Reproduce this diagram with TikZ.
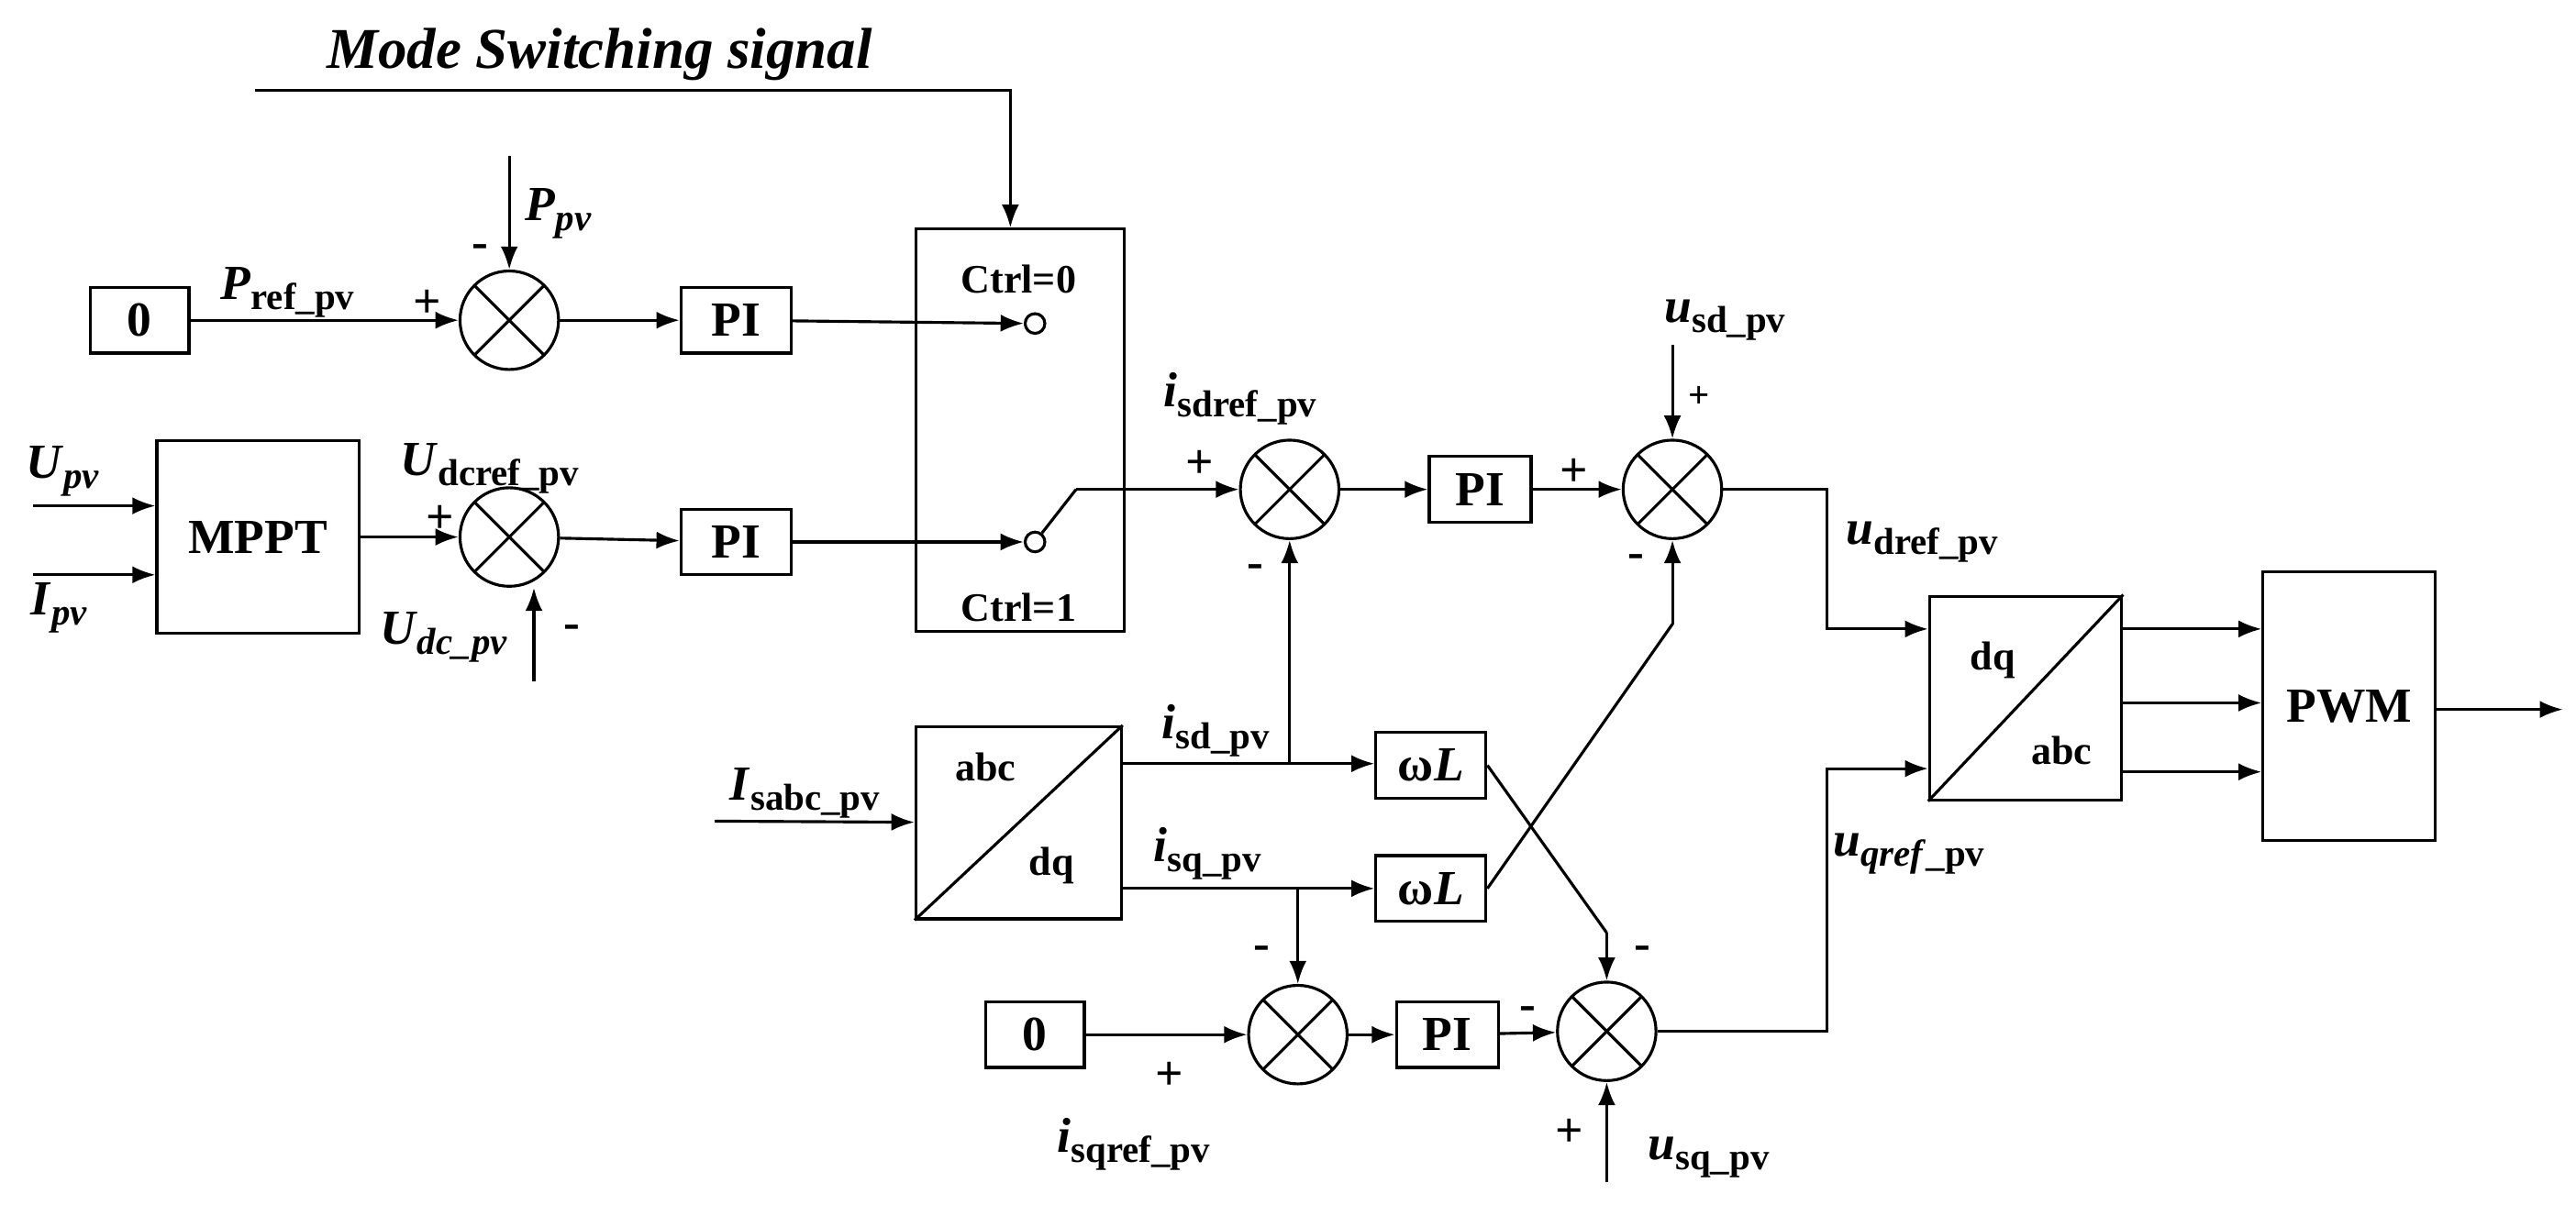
\documentclass[tikz,border=0pt]{standalone}
\usepackage{fontspec}
\setmainfont{Liberation Serif}
\usetikzlibrary{arrows.meta}
\newcommand{\lb}[2]{\textbf{\textit{#1}}\raisebox{-0.45ex}{\fontsize{13}{13}\selectfont\textbf{#2}}}
\begin{document}
\begin{tikzpicture}[x=0.02cm,y=-0.02cm,line width=1pt,>={Latex[length=8pt,width=6pt]},
 font=\fontsize{17}{19}\selectfont\bfseries,
 blk/.style={draw,inner sep=0pt},
 sml/.style={font=\fontsize{14}{16}\selectfont\bfseries},
 sum/.style={circle,draw,minimum size=1.2cm,inner sep=0pt,path picture={
   \draw (path picture bounding box.north west)--(path picture bounding box.south east)
         (path picture bounding box.north east)--(path picture bounding box.south west);}}]
\useasboundingbox (0,0) rectangle (1568,740);
% top signal
\node[font=\fontsize{20}{22}\selectfont\bfseries] (msl) at (365,33) {\textit{Mode Switching signal}};
\coordinate (ms0) at (155,55); \coordinate (ms1) at (615,55);
% row 1
\node[blk,minimum width=1.2cm,minimum height=0.8cm] (z1) at (85,195) {0};
\node[sum] (s1) at (310,195) {};
\node[blk,minimum width=1.34cm,minimum height=0.8cm] (pi1) at (448,195) {PI};
\node[blk,minimum width=2.54cm,minimum height=4.9cm] (sw) at (621,262) {};
\node[circle,draw,minimum size=0.24cm,inner sep=0pt] (c0) at (630,197) {};
\node[circle,draw,minimum size=0.24cm,inner sep=0pt] (c1) at (630,330) {};
\node[sml] at (620,170) {Ctrl=0};
\node[sml] at (620,370) {Ctrl=1};
\draw[->] (ms0)--(ms1)--(sw.north-|ms1);
\draw[->] (z1)--(s1);
\node at (175,178) {\textbf{\textit{P}}\raisebox{-0.45ex}{\fontsize{13}{13}\selectfont ref\_pv}};
\node at (260,185) {+};
\node at (292,153) {-};
\coordinate (pp) at (310,95);
\draw[->] (pp)--(s1);
\node at (340,130) {\lb{P}{\textit{pv}}};
\draw[->] (s1)--(pi1);
\draw[->] (pi1)--(c0);
% row 2
\node[blk,minimum width=2.46cm,minimum height=2.34cm] (mppt) at (157,327) {MPPT};
\coordinate (u0) at (20,308); \coordinate (i0) at (20,350);
\draw[->] (u0)--(u0-|mppt.west);
\draw[->] (i0)--(i0-|mppt.west);
\node at (38,287) {\lb{U}{\textit{pv}}};
\node at (36,370) {\lb{I}{\textit{pv}}};
\node[sum] (s2) at (310,327) {};
\node[blk,minimum width=1.34cm,minimum height=0.8cm] (pi2) at (448,330) {PI};
\draw[->] (mppt.east|-s2)--(s2);
\node at (298,285) {\textbf{\textit{U}}\raisebox{-0.45ex}{\fontsize{13}{13}\selectfont dcref\_pv}};
\node at (268,316) {+};
\coordinate (ud) at (325,415);
\draw[->] (ud)--(ud|-s2.south);
\node at (270,388) {\lb{U}{\textit{dc\_pv}}};
\node at (348,385) {-};
\draw[->] (s2)--(pi2);
\draw[->] (pi2)--(c1);
\coordinate (sw1) at (655,298);
\draw (c1)--(sw1);
\node[sum] (s3) at (785,298) {};
\draw[->] (sw1)--(s3);
\node at (755,243) {\lb{i}{sdref\_pv}};
\node at (730,283) {+};
\node at (764,348) {-};
\node[blk,minimum width=1.24cm,minimum height=0.8cm] (pi3) at (901,298) {PI};
\draw[->] (s3)--(pi3);
\node[sum] (s4) at (1018,298) {};
\draw[->] (pi3)--(s4);
\node at (958,288) {+};
\node at (996,342) {-};
\coordinate (usd) at (1018,210);
\draw[->] (usd)--(s4);
\node at (1050,195) {\lb{u}{sd\_pv}};
\node at (1034,242) {\fontsize{13}{13}\selectfont +};
% dq/abc
\node[blk,minimum width=2.34cm,minimum height=2.48cm] (tr) at (1233,425) {};
\draw (tr.south west)--(tr.north east);
\node[sml] at (1213,402) {dq};
\node[sml] at (1255,457) {abc};
\coordinate (a1) at (1112,298);
\coordinate (a2) at (1112,383);
\draw[->] (s4)--(a1)--(a2)--(a2-|tr.west);
\node at (1170,330) {\lb{u}{dref\_pv}};
\node[blk,minimum width=2.1cm,minimum height=3.28cm] (pwm) at (1430,430) {PWM};
\foreach \yy in {383,428,470}{\draw[->] (tr.east|-0,\yy)--(pwm.west|-0,\yy);}
\coordinate (out) at (1560,432);
\draw[->] (pwm.east|-out)--(out);
% abc/dq
\node[blk,minimum width=2.5cm,minimum height=2.34cm] (ad) at (620,501) {};
\draw (ad.south west)--(ad.north east);
\node[sml] at (600,467) {abc};
\node[sml] at (640,527) {dq};
\coordinate (is) at (435,500);
\draw[->] (is)--(ad);
\node at (490,483) {\lb{I}{sabc\_pv}};
\node[blk,minimum width=1.34cm,minimum height=0.8cm] (wl1) at (871,466) {ω\textit{L}};
\node[blk,minimum width=1.34cm,minimum height=0.8cm] (wl2) at (871,541) {ω\textit{L}};
\coordinate (j1) at (785,465);
\coordinate (j2) at (790,541);
\draw[->] (ad.east|-j1)--(wl1.west|-j1);
\draw[->] (ad.east|-j2)--(wl2.west|-j2);
\draw[->] (j1)--(s3);
\node at (740,445) {\lb{i}{sd\_pv}};
\node at (735,520) {\lb{i}{sq\_pv}};
% row 3
\node[blk,minimum width=1.2cm,minimum height=0.8cm] (z2) at (630,630) {0};
\node[sum] (s5) at (790,630) {};
\node[blk,minimum width=1.24cm,minimum height=0.8cm] (pi4) at (881,630) {PI};
\node[sum] (s6) at (978,628) {};
\draw[->] (j2)--(s5);
\node at (768,580) {-};
\draw[->] (z2)--(s5);
\node at (712,655) {+};
\node at (690,697) {\lb{i}{sqref\_pv}};
\draw[->] (s5)--(pi4);
\draw[->] (pi4)--(s6);
\node at (930,617) {-};
\coordinate (k1) at (978,568);
\draw (wl1.east)--(k1);
\draw[->] (k1)--(s6);
\node at (1000,580) {-};
\coordinate (k2) at (1018,380);
\draw (wl2.east)--(k2);
\draw[->] (k2)--(s4);
\coordinate (usq) at (978,720);
\draw[->] (usq)--(s6);
\node at (955,690) {+};
\node at (1040,705) {\lb{u}{sq\_pv}};
\coordinate (b1) at (1112,628);
\coordinate (b2) at (1112,468);
\draw[->] (s6)--(b1)--(b2)--(b2-|tr.west);
\node at (1162,520) {\textbf{\textit{u}}\raisebox{-0.45ex}{\fontsize{13}{13}\selectfont\textit{qref}\_pv}};
\end{tikzpicture}
\end{document}
